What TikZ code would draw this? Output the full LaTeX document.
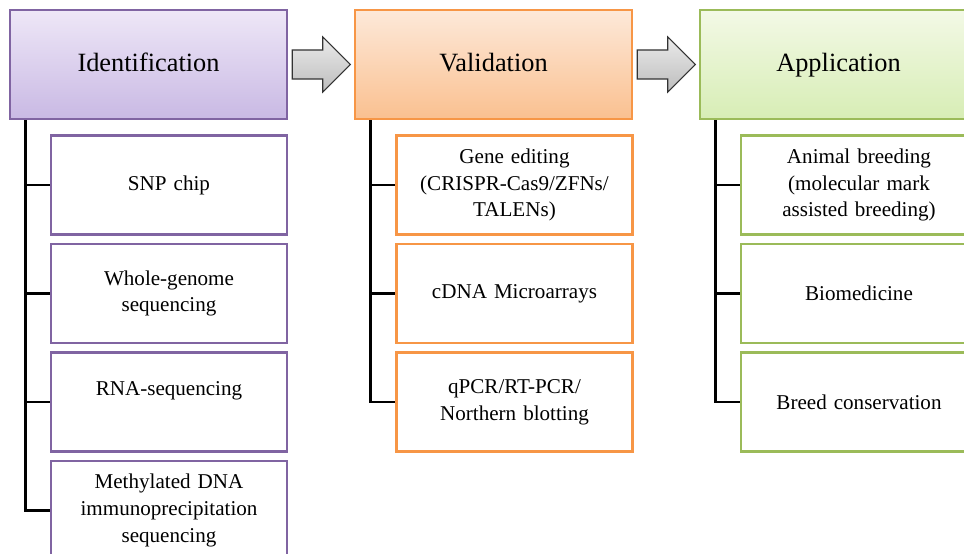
\documentclass[tikz,border=0pt]{standalone}
\usepackage{fontspec}
\setmainfont{Liberation Serif}
\usepackage{tikz}
\usetikzlibrary{shapes.geometric, shapes.arrows}

\definecolor{purpleline}{RGB}{128,100,162}
\definecolor{purpletop}{RGB}{238,231,247}
\definecolor{purplebot}{RGB}{201,185,228}
\definecolor{orangeline}{RGB}{247,150,70}
\definecolor{orangetop}{RGB}{253,233,217}
\definecolor{orangebot}{RGB}{250,192,144}
\definecolor{greenline}{RGB}{155,187,89}
\definecolor{greentop}{RGB}{243,249,230}
\definecolor{greenbot}{RGB}{215,237,181}

\tikzstyle{header} = [
    rectangle,
    minimum width=5.54cm,
    minimum height=2.18cm,
    text height=0.85em,
    text depth=0pt,
    line width=1.3pt,
    font=\fontsize{15}{18}\selectfont
]
\tikzstyle{item} = [
    rectangle,
    minimum width=4.72cm,
    minimum height=1.98cm,
    text width=4.4cm,
    align=center,
    line width=1.3pt,
    fill=white,
    font=\fontsize{12}{15.3}\selectfont
]
\tikzstyle{idhead} = [header, draw=purpleline, top color=purpletop, bottom color=purplebot]
\tikzstyle{valhead} = [header, draw=orangeline, top color=orangetop, bottom color=orangebot]
\tikzstyle{apphead} = [header, draw=greenline, top color=greentop, bottom color=greenbot]
\tikzstyle{iditem} = [item, draw=purpleline]
\tikzstyle{valitem} = [item, draw=orangeline]
\tikzstyle{appitem} = [item, draw=greenline]
\tikzstyle{bigarrow} = [
    single arrow,
    single arrow head extend=0.26cm,
    minimum height=1.16cm,
    minimum width=1.08cm,
    inner sep=0pt,
    text height=0.28cm,
    text depth=0.28cm,
    draw=black!80,
    line width=0.6pt,
    top color=black!8,
    bottom color=black!26
]
\tikzstyle{branch} = [line width=1.6pt, black]

\begin{document}
\begin{tikzpicture}[x=0.02cm, y=-0.02cm, node distance=2.17cm]

\clip (0,0) rectangle (964,554);

% headers
\node (ident) [idhead] at (148.5,64.5) {Identification};

\node (valid) [valhead] at (493.5,64.5) {Validation};

\node (appl) [apphead] at (838.5,64.5) {Application};

\node (arr1) [bigarrow] at (314,64.5) {};

\node (arr2) [bigarrow] at (659,64.5) {};

% identification
\node (snp) [iditem] at (169,185) {SNP chip};

\node (wgs) [iditem, below of=snp] {Whole-genome\\sequencing};

\node (rnaseq) [iditem, below of=wgs] {RNA-sequencing\\~};

\node (medip) [iditem, below of=rnaseq] 
{Methylated DNA\\immunoprecipitation\\sequencing};

% validation
\node (editing) [valitem] at (514.5,185) 
{Gene editing\\(CRISPR-Cas9/ZFNs/\\TALENs)};

\node (microarray) [valitem, below of=editing] {cDNA Microarrays};

\node (qpcr) [valitem, below of=microarray] 
{qPCR/RT-PCR/\\Northern blotting};

% application
\node (breeding) [appitem] at (859,185) 
{Animal breeding\\(molecular mark\\assisted breeding)};

\node (biomed) [appitem, below of=breeding] {Biomedicine};

\node (conserv) [appitem, below of=biomed] {Breed conservation};

\draw [branch] ([xshift=0.34cm]ident.south west) |- (snp.west);
\draw [branch] ([xshift=0.34cm]ident.south west) |- (wgs.west);
\draw [branch] ([xshift=0.34cm]ident.south west) |- (rnaseq.west);
\draw [branch] ([xshift=0.34cm]ident.south west) |- (medip.west);

\draw [branch] ([xshift=0.34cm]valid.south west) |- (editing.west);
\draw [branch] ([xshift=0.34cm]valid.south west) |- (microarray.west);
\draw [branch] ([xshift=0.34cm]valid.south west) |- (qpcr.west);

\draw [branch] ([xshift=0.34cm]appl.south west) |- (breeding.west);
\draw [branch] ([xshift=0.34cm]appl.south west) |- (biomed.west);
\draw [branch] ([xshift=0.34cm]appl.south west) |- (conserv.west);

\end{tikzpicture}
\end{document}
